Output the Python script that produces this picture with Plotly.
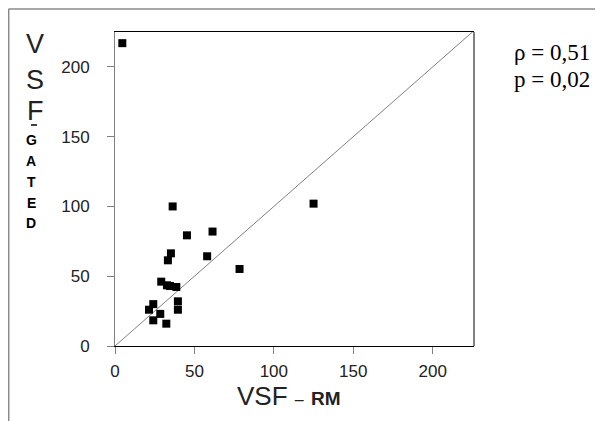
import plotly.graph_objects as go

vsf_rm = [4.6, 125, 36.3, 45.3, 61.4, 35.2, 33.3, 58, 78.4, 29.1, 32.7, 34.6, 38.6, 39.6, 39.6, 24.1, 21.4, 28.5, 24.1, 32.3]
vsf_gated = [217, 102, 100, 79.3, 82, 66.4, 61.4, 64.3, 55.2, 46.1, 43.5, 43, 42.3, 32, 26, 30, 26, 23, 18.4, 16]
tick_vals = [0, 50, 100, 150, 200]
identity = [0, 226]
rho_text = "ρ = 0,51"
p_text = "p = 0,02"

# page body has an 8px margin; work in reference pixel coordinates and shift
OFF = 8
W, H = 603 - OFF, 421 - OFF
L, T = 115 - OFF, 32 - OFF
PR, PB = 474 - OFF, 346 - OFF
R, B = W - PR, H - PB
PW, PH = PR - L, PB - T


def px(x):
    return (x - OFF - L) / PW


def py(y):
    return (PB - (y - OFF)) / PH


fig = go.Figure()
fig.add_trace(go.Scatter(x=identity, y=identity, mode="lines",
                         line=dict(color="#808080", width=1), hoverinfo="skip"))
fig.add_trace(go.Scatter(x=vsf_rm, y=vsf_gated, mode="markers",
                         marker=dict(symbol="square", size=8, color="black"),
                         hoverinfo="x+y"))

axis_common = dict(range=[0, 226], tickvals=tick_vals, ticks="outside", ticklen=7,
                   tickcolor="#808080", showgrid=False, zeroline=False,
                   tickfont=dict(family="Liberation Sans, Arial", size=17, color="#222"))
fig.update_xaxes(**axis_common, linecolor="black", linewidth=1, mirror=True,
                 ticklabelstandoff=3)
fig.update_yaxes(**{**axis_common, "range": [0, 225]}, linecolor="#808080", linewidth=1,
                 ticklabelstandoff=14)

shapes = [
    dict(type="line", xref="paper", yref="paper", x0=1, x1=1, y0=0, y1=1,
         line=dict(color="black", width=1)),
    dict(type="line", xref="paper", yref="paper", x0=px(8.5), x1=px(603), y0=py(9), y1=py(9),
         line=dict(color="#8a8a8a", width=1.5)),
    dict(type="line", xref="paper", yref="paper", x0=px(8.7), x1=px(8.7), y0=py(9), y1=py(421),
         line=dict(color="#8a8a8a", width=1.5)),
    dict(type="line", xref="paper", yref="paper", x0=px(31), x1=px(37), y0=py(125), y1=py(125),
         line=dict(color="black", width=1.5)),
]
fig.update_layout(shapes=shapes)

ann = []
big = dict(family="Liberation Sans, Arial", size=27, color="#222")
small = dict(family="Liberation Sans, Arial", size=14, color="black")
for ch, y in [("V", 44), ("S", 80), ("F", 111)]:
    ann.append(dict(text=ch, x=px(35), y=py(y), font=big))
for ch, y in zip("GATED", [140, 161, 182, 203, 223]):
    ann.append(dict(text="<b>" + ch + "</b>", x=px(31), y=py(y), font=small))
ann.append(dict(text="VSF <span style='font-size:16px'>–</span> <b style='font-size:19px'>RM</b>",
                x=px(289), y=py(396), height=24,
                font=dict(family="Liberation Sans, Arial", size=26, color="#222")))
serif = dict(family="Liberation Serif, Times New Roman", size=23, color="black")
ann.append(dict(text=rho_text, x=px(512), y=py(52), font=serif, xanchor="left"))
ann.append(dict(text=p_text, x=px(512), y=py(79), font=serif, xanchor="left"))
for a in ann:
    a.setdefault("xanchor", "center")
    a.update(xref="paper", yref="paper", yanchor="middle", showarrow=False)
fig.update_layout(annotations=ann)

fig.update_layout(width=W, height=H, margin=dict(l=L, r=R, t=T, b=B),
                  paper_bgcolor="white", plot_bgcolor="white", showlegend=False)
fig.write_html("out.html")
